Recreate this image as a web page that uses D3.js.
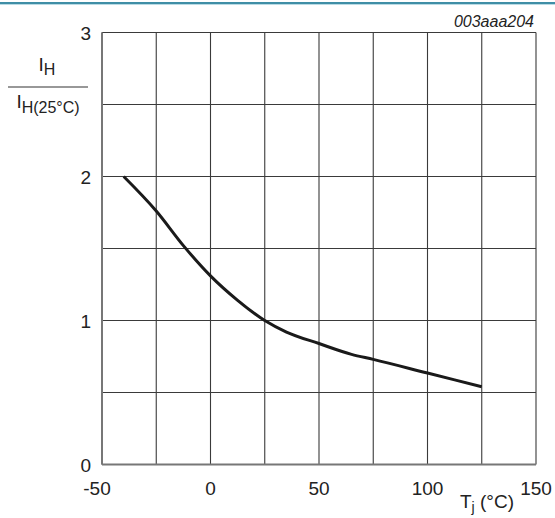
<!DOCTYPE html>
<head>
<meta charset="utf-8">
<script src="https://d3js.org/d3.v7.min.js"></script>
<style>
  body { margin: 0; background: #fff; }
  text { font-family: "Liberation Sans", Arial, sans-serif; fill: #222; }
</style>
</head>
<body>
<div id="chart"></div>
<script>
    // Tj (°C) vs IH / IH(25°C)
    var temps  = [-40, -25, -12.5, 0, 12.5, 25, 35, 50, 65, 75, 100, 125];
    var ratios = [2.0, 1.76, 1.52, 1.31, 1.14, 1.0, 0.92, 0.84, 0.765, 0.73, 0.635, 0.54];
    var xTicks = [-50, 0, 50, 100, 150];
    var yTicks = [0, 1, 2, 3];
    var xGrid  = d3.range(-50, 151, 25);
    var yGrid  = d3.range(0, 3.01, 0.5);

    var data = temps.map(function(t, i) { return {t: t, r: ratios[i]}; });

    var W = 555, H = 518;
    var margin = {left: 102, right: 19, top: 32.5, bottom: 53.5};

    var svg = d3.select("#chart").append("svg")
        .attr("width", W)
        .attr("height", H);

    // teal rule across the top
    svg.append("rect").attr("x", 0).attr("y", 2).attr("width", W).attr("height", 2).attr("fill", "#3f8ea6");
    svg.append("rect").attr("x", 0).attr("y", 4).attr("width", W).attr("height", 1).attr("fill", "#b9dbe5");

    var x = d3.scaleLinear().domain([-50, 150]).range([margin.left, W - margin.right]);
    var y = d3.scaleLinear().domain([0, 3]).range([H - margin.bottom, margin.top]);

    // grid
    svg.append("g").selectAll("line")
        .data(xGrid).enter().append("line")
          .attr("x1", function(d) { return x(d); })
          .attr("x2", function(d) { return x(d); })
          .attr("y1", y(0)).attr("y2", y(3))
          .attr("stroke", "#3a3a3a").attr("stroke-width", 1.1);
    svg.append("g").selectAll("line")
        .data(yGrid).enter().append("line")
          .attr("y1", function(d) { return y(d); })
          .attr("y2", function(d) { return y(d); })
          .attr("x1", x(-50)).attr("x2", x(150))
          .attr("stroke", "#3a3a3a").attr("stroke-width", 1.1);

    // left / bottom frame a bit greyer and heavier
    svg.append("line").attr("x1", x(-50)).attr("x2", x(-50)).attr("y1", y(0)).attr("y2", y(3))
        .attr("stroke", "#777").attr("stroke-width", 2);
    svg.append("line").attr("x1", x(-50)).attr("x2", x(150)).attr("y1", y(0)).attr("y2", y(0))
        .attr("stroke", "#777").attr("stroke-width", 2);

    // tick labels
    svg.append("g").selectAll("text")
        .data(yTicks).enter().append("text")
          .attr("x", x(-50) - 11)
          .attr("y", function(d) { return y(d) + 7; })
          .attr("text-anchor", "end")
          .attr("font-size", 19)
          .text(function(d) { return d; });
    svg.append("g").selectAll("text")
        .data(xTicks).enter().append("text")
          .attr("x", function(d) { return x(d) - (d < 0 ? 5 : 0); })
          .attr("y", y(0) + 30)
          .attr("text-anchor", "middle")
          .attr("font-size", 19)
          .text(function(d) { return d; });

    // the curve
    svg.append("path")
        .datum(data)
        .attr("fill", "none")
        .attr("stroke", "#1a1a1a")
        .attr("stroke-width", 3)
        .attr("d", d3.line()
            .x(function(d) { return x(d.t); })
            .y(function(d) { return y(d.r); })
            .curve(d3.curveMonotoneX));

    // y label: IH / IH(25°C)
    var num = svg.append("text").attr("x", 47).attr("y", 71).attr("text-anchor", "middle").attr("font-size", 19);
    num.append("tspan").text("I");
    num.append("tspan").attr("dy", 4).attr("font-size", 16).text("H");
    svg.append("line").attr("x1", 8).attr("x2", 88).attr("y1", 87).attr("y2", 87)
        .attr("stroke", "#333").attr("stroke-width", 1.2);
    var den = svg.append("text").attr("x", 48).attr("y", 108).attr("text-anchor", "middle").attr("font-size", 19);
    den.append("tspan").text("I");
    den.append("tspan").attr("dy", 5).attr("font-size", 16).text("H(25°C)");

    // x label: Tj (°C)
    var xl = svg.append("text").attr("x", 487).attr("y", 508).attr("text-anchor", "middle").attr("font-size", 19);
    xl.append("tspan").text("T");
    xl.append("tspan").attr("dy", 4).attr("font-size", 14).text("j");
    xl.append("tspan").attr("dy", -4).text(" (°C)");

    // figure code
    svg.append("text")
        .attr("x", W - 21).attr("y", 27)
        .attr("text-anchor", "end")
        .attr("font-size", 16)
        .attr("font-style", "italic")
        .text("003aaa204");
</script>
</body>
